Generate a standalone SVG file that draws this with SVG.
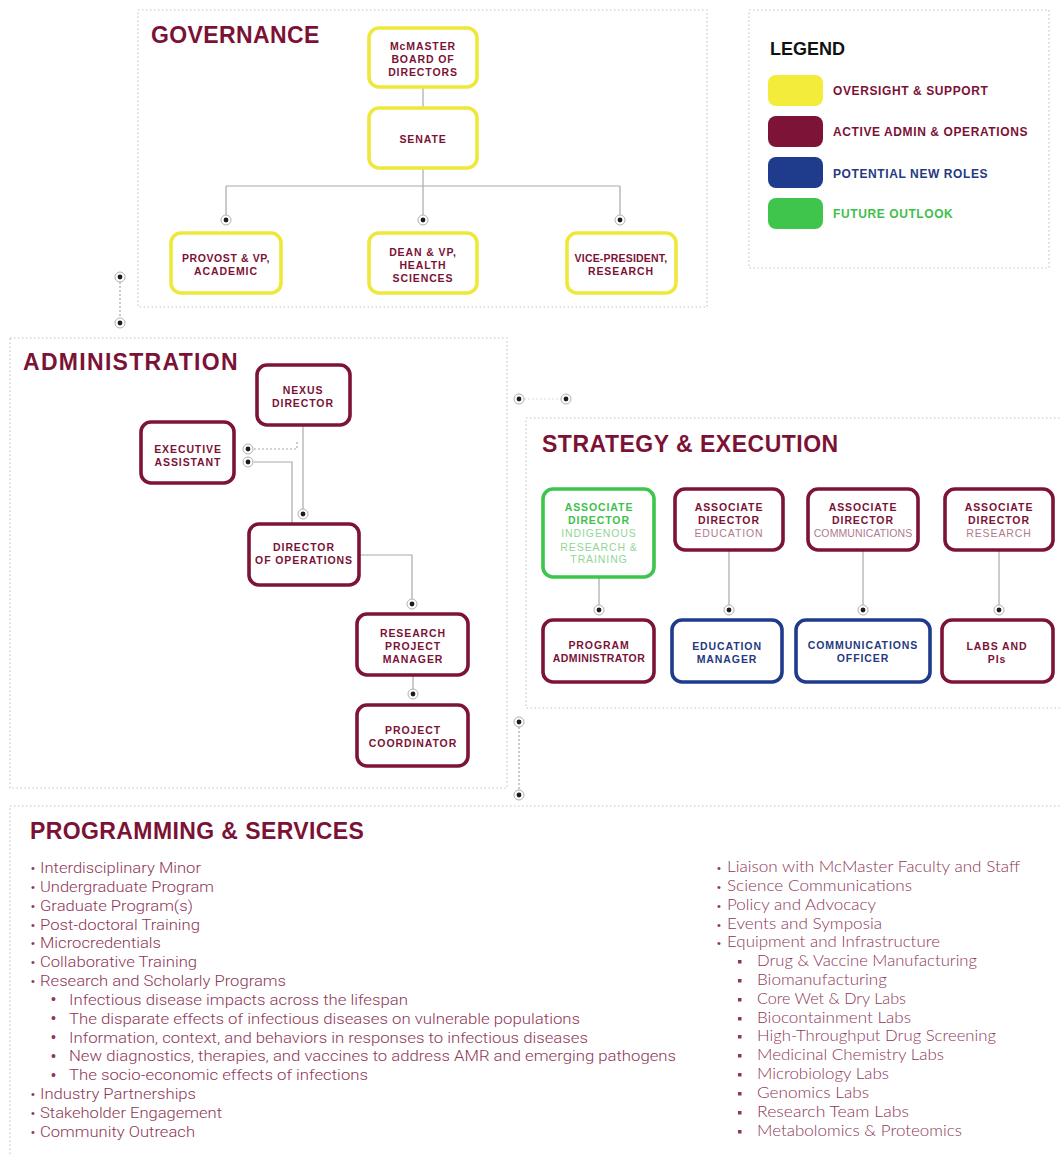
<svg xmlns="http://www.w3.org/2000/svg" xmlns:xlink="http://www.w3.org/1999/xlink" width="1060" height="1154" viewBox="0 0 1060 1154">
<defs>
<style>
.panel{fill:#fff;stroke:#c6c6c6;stroke-width:1.2;stroke-dasharray:1.5 2.5}
.title{font-family:'Liberation Sans',Arial,sans-serif;font-weight:700;font-size:23px;fill:#7b1236}
.box{fill:#fff;stroke-width:3.6}
.y{stroke:#efe83c}
.m{stroke:#7d1438}
.b{stroke:#1f3b8c}
.g{stroke:#3fc44c}
.t{font-family:'Liberation Sans',Arial,sans-serif;font-weight:700;font-size:10.5px;fill:#7b1236;text-anchor:middle;letter-spacing:0.9px}
.tb{fill:#253a80}
.tg{fill:#3fbf4c}
.s{font-weight:400;fill:#b07a8e}
.sg{font-weight:400;fill:#92d696}
.conn{stroke:#a9a9a9;stroke-width:1.2;fill:none}
.dash{stroke-dasharray:2 2}
.leg{font-family:'Liberation Sans',Arial,sans-serif;font-weight:700;font-size:12px;letter-spacing:0.6px}
.li{font-family:Roboto,'Liberation Sans',sans-serif;font-weight:300;font-size:15.5px;fill:#8e3658}
.ri{font-family:Lato,'Open Sans','Liberation Sans',sans-serif;font-weight:300;font-size:15.5px;fill:#8e3658}
.bul{font-family:'Liberation Sans',Arial,sans-serif;font-size:11px;fill:#8e3658}
.sq{fill:#8e3658}
</style>
<g id="dot"><circle r="5" fill="#fff" stroke="#b0b0b0" stroke-width="1"/><circle r="2.4" fill="#1c1c1c"/></g>
</defs>
<rect width="1060" height="1154" fill="#fff"/>

<!-- panels -->
<g id="panels">
<rect class="panel" x="138" y="10" width="569" height="297"/>
<rect class="panel" x="749" y="10" width="300" height="258"/>
<rect class="panel" x="10" y="338" width="497" height="450"/>
<rect class="panel" x="526" y="418" width="540" height="290"/>
<rect class="panel" x="10" y="806" width="1060" height="360"/>
<text class="title" x="151" y="43" letter-spacing="0.4">GOVERNANCE</text>
<text class="title" x="23" y="370" letter-spacing="1.3">ADMINISTRATION</text>
<text class="title" x="542" y="452" letter-spacing="0.5">STRATEGY &amp; EXECUTION</text>
<text class="title" x="30" y="839" letter-spacing="0.4">PROGRAMMING &amp; SERVICES</text>
</g>

<!-- legend -->
<g id="legend">
<text x="770" y="55" style="font-family:'Liberation Sans',Arial,sans-serif;font-weight:700;font-size:18px;fill:#111">LEGEND</text>
<rect x="768" y="75" width="55" height="31" rx="8" fill="#f3ec3a"/>
<rect x="768" y="116" width="55" height="31" rx="8" fill="#7d1438"/>
<rect x="768" y="157" width="55" height="31" rx="8" fill="#1f3b8c"/>
<rect x="768" y="198" width="55" height="31" rx="8" fill="#3fc44c"/>
<text class="leg" x="833" y="95" fill="#7b1236">OVERSIGHT &amp; SUPPORT</text>
<text class="leg" x="833" y="136" fill="#7b1236">ACTIVE ADMIN &amp; OPERATIONS</text>
<text class="leg" x="833" y="178" fill="#253a80">POTENTIAL NEW ROLES</text>
<text class="leg" x="833" y="218" fill="#3fbf4c">FUTURE OUTLOOK</text>
</g>

<!-- connectors -->
<g id="connectors">
<path class="conn" d="M423 87V108"/>
<path class="conn" d="M423 168V186M226 186H620M226 186V215M423 186V215M620 186V215"/>
<path class="conn dash" d="M120 282V318"/>
<path class="conn dash" d="M524 399H561" stroke-opacity="0.4"/>
<path class="conn dash" d="M519 727V790"/>
<path class="conn" d="M303 425V509"/>
<path class="conn dash" d="M254 449H297V441"/>
<path class="conn" d="M254 462H292V524"/>
<path class="conn" d="M359 555H412V599"/>
<path class="conn" d="M413 675V689"/>
<path class="conn" d="M599 577V605M729 550V605M863 550V605M999 550V605"/>
<use xlink:href="#dot" x="226" y="220"/>
<use xlink:href="#dot" x="423" y="220"/>
<use xlink:href="#dot" x="620" y="220"/>
<use xlink:href="#dot" x="120" y="277"/>
<use xlink:href="#dot" x="120" y="323"/>
<use xlink:href="#dot" x="519" y="399"/>
<use xlink:href="#dot" x="566" y="399"/>
<use xlink:href="#dot" x="519" y="722"/>
<use xlink:href="#dot" x="519" y="795"/>
<use xlink:href="#dot" x="303" y="514"/>
<use xlink:href="#dot" x="248" y="449"/>
<use xlink:href="#dot" x="248" y="462"/>
<use xlink:href="#dot" x="412" y="604"/>
<use xlink:href="#dot" x="413" y="694"/>
<use xlink:href="#dot" x="599" y="610"/>
<use xlink:href="#dot" x="729" y="610"/>
<use xlink:href="#dot" x="863" y="610"/>
<use xlink:href="#dot" x="999" y="610"/>
</g>

<!-- governance nodes -->
<g id="board"><rect class="box y" x="369" y="28" width="108" height="59" rx="10"/>
<text class="t" x="423" y="50">McMASTER</text><text class="t" x="423" y="63">BOARD OF</text><text class="t" x="423" y="76">DIRECTORS</text></g>
<g id="senate"><rect class="box y" x="369" y="108" width="108" height="60" rx="10"/>
<text class="t" x="423" y="143">SENATE</text></g>
<g id="provost"><rect class="box y" x="171" y="233" width="110" height="60" rx="10"/>
<text class="t" x="226" y="262" style="letter-spacing:0.6px">PROVOST &amp; VP,</text><text class="t" x="226" y="275">ACADEMIC</text></g>
<g id="dean"><rect class="box y" x="369" y="233" width="108" height="60" rx="10"/>
<text class="t" x="423" y="256">DEAN &amp; VP,</text><text class="t" x="423" y="269">HEALTH</text><text class="t" x="423" y="282">SCIENCES</text></g>
<g id="vpresearch"><rect class="box y" x="567" y="233" width="109" height="60" rx="10"/>
<text class="t" x="621" y="262" style="letter-spacing:0.2px">VICE-PRESIDENT,</text><text class="t" x="621" y="275">RESEARCH</text></g>

<!-- administration nodes -->
<g id="nexus"><rect class="box m" x="257" y="365" width="93" height="60" rx="10"/>
<text class="t" x="303" y="394">NEXUS</text><text class="t" x="303" y="407">DIRECTOR</text></g>
<g id="exec"><rect class="box m" x="141" y="422" width="93" height="61" rx="10"/>
<text class="t" x="188" y="453">EXECUTIVE</text><text class="t" x="188" y="466">ASSISTANT</text></g>
<g id="ops"><rect class="box m" x="249" y="524" width="110" height="61" rx="10"/>
<text class="t" x="304" y="551">DIRECTOR</text><text class="t" x="304" y="564">OF OPERATIONS</text></g>
<g id="rpm"><rect class="box m" x="357" y="614" width="111" height="61" rx="10"/>
<text class="t" x="413" y="637">RESEARCH</text><text class="t" x="413" y="650">PROJECT</text><text class="t" x="413" y="663">MANAGER</text></g>
<g id="pc"><rect class="box m" x="357" y="705" width="111" height="61" rx="10"/>
<text class="t" x="413" y="734">PROJECT</text><text class="t" x="413" y="747">COORDINATOR</text></g>

<!-- strategy nodes -->
<g id="ad-indigenous"><rect class="box g" x="543" y="489" width="111" height="88" rx="10"/>
<text class="t tg" x="599" y="511">ASSOCIATE</text><text class="t tg" x="599" y="524">DIRECTOR</text>
<text class="t sg" x="599" y="537">INDIGENOUS</text><text class="t sg" x="599" y="551">RESEARCH &amp;</text><text class="t sg" x="599" y="563">TRAINING</text></g>
<g id="ad-education"><rect class="box m" x="675" y="489" width="108" height="61" rx="10"/>
<text class="t" x="729" y="511">ASSOCIATE</text><text class="t" x="729" y="524">DIRECTOR</text><text class="t s" x="729" y="537">EDUCATION</text></g>
<g id="ad-comms"><rect class="box m" x="808" y="489" width="110" height="61" rx="10"/>
<text class="t" x="863" y="511">ASSOCIATE</text><text class="t" x="863" y="524">DIRECTOR</text><text class="t s" x="863" y="537" style="letter-spacing:0.1px">COMMUNICATIONS</text></g>
<g id="ad-research"><rect class="box m" x="945" y="489" width="108" height="61" rx="10"/>
<text class="t" x="999" y="511">ASSOCIATE</text><text class="t" x="999" y="524">DIRECTOR</text><text class="t s" x="999" y="537">RESEARCH</text></g>
<g id="progadmin"><rect class="box m" x="543" y="620" width="111" height="62" rx="10"/>
<text class="t" x="599" y="649">PROGRAM</text><text class="t" x="599" y="662" style="letter-spacing:0.4px">ADMINISTRATOR</text></g>
<g id="edumgr"><rect class="box b" x="672" y="620" width="110" height="62" rx="10"/>
<text class="t tb" x="727" y="650">EDUCATION</text><text class="t tb" x="727" y="663">MANAGER</text></g>
<g id="commofficer"><rect class="box b" x="796" y="620" width="134" height="62" rx="10"/>
<text class="t tb" x="863" y="649">COMMUNICATIONS</text><text class="t tb" x="863" y="662">OFFICER</text></g>
<g id="labs"><rect class="box m" x="942" y="620" width="111" height="62" rx="10"/>
<text class="t" x="997" y="650">LABS AND</text><text class="t" x="997" y="663">PIs</text></g>

<!-- programming lists -->
<g id="list-left">
<g class="bul">
<text x="31" y="872">•</text><text x="31" y="891">•</text><text x="31" y="910">•</text><text x="31" y="929">•</text><text x="31" y="947">•</text><text x="31" y="966">•</text><text x="31" y="985">•</text>
<text x="51" y="1004" font-size="14">•</text><text x="51" y="1023" font-size="14">•</text><text x="51" y="1042" font-size="14">•</text><text x="51" y="1061" font-size="14">•</text><text x="51" y="1080" font-size="14">•</text>
<text x="31" y="1098">•</text><text x="31" y="1117">•</text><text x="31" y="1136">•</text>
</g>
<text class="li" x="40" y="873" textLength="161" lengthAdjust="spacingAndGlyphs">Interdisciplinary Minor</text>
<text class="li" x="40" y="892" textLength="174" lengthAdjust="spacingAndGlyphs">Undergraduate Program</text>
<text class="li" x="40" y="911" textLength="153" lengthAdjust="spacingAndGlyphs">Graduate Program(s)</text>
<text class="li" x="40" y="930" textLength="160" lengthAdjust="spacingAndGlyphs">Post-doctoral Training</text>
<text class="li" x="40" y="948" textLength="121" lengthAdjust="spacingAndGlyphs">Microcredentials</text>
<text class="li" x="40" y="967" textLength="157" lengthAdjust="spacingAndGlyphs">Collaborative Training</text>
<text class="li" x="40" y="986" textLength="246" lengthAdjust="spacingAndGlyphs">Research and Scholarly Programs</text>
<text class="li" x="69" y="1005" textLength="339" lengthAdjust="spacingAndGlyphs">Infectious disease impacts across the lifespan</text>
<text class="li" x="69" y="1024" textLength="511" lengthAdjust="spacingAndGlyphs">The disparate effects of infectious diseases on vulnerable populations</text>
<text class="li" x="69" y="1043" textLength="519" lengthAdjust="spacingAndGlyphs">Information, context, and behaviors in responses to infectious diseases</text>
<text class="li" x="69" y="1061" textLength="607" lengthAdjust="spacingAndGlyphs">New diagnostics, therapies, and vaccines to address AMR and emerging pathogens</text>
<text class="li" x="69" y="1080" textLength="299" lengthAdjust="spacingAndGlyphs">The socio-economic effects of infections</text>
<text class="li" x="40" y="1099" textLength="156" lengthAdjust="spacingAndGlyphs">Industry Partnerships</text>
<text class="li" x="40" y="1118" textLength="182" lengthAdjust="spacingAndGlyphs">Stakeholder Engagement</text>
<text class="li" x="40" y="1137" textLength="155" lengthAdjust="spacingAndGlyphs">Community Outreach</text>
</g>
<g id="list-right">
<g class="bul">
<text x="717" y="872">•</text><text x="717" y="891">•</text><text x="717" y="910">•</text><text x="717" y="929">•</text><text x="717" y="947">•</text>
</g>
<g class="sq">
<rect x="738" y="960" width="3.5" height="3.5"/><rect x="738" y="979" width="3.5" height="3.5"/><rect x="738" y="998" width="3.5" height="3.5"/><rect x="738" y="1017" width="3.5" height="3.5"/><rect x="738" y="1035" width="3.5" height="3.5"/>
<rect x="738" y="1054" width="3.5" height="3.5"/><rect x="738" y="1073" width="3.5" height="3.5"/><rect x="738" y="1092" width="3.5" height="3.5"/><rect x="738" y="1111" width="3.5" height="3.5"/><rect x="738" y="1130" width="3.5" height="3.5"/>
</g>
<text class="ri" x="727" y="872" textLength="293" lengthAdjust="spacingAndGlyphs">Liaison with McMaster Faculty and Staff</text>
<text class="ri" x="727" y="891" textLength="185" lengthAdjust="spacingAndGlyphs">Science Communications</text>
<text class="ri" x="727" y="910" textLength="149" lengthAdjust="spacingAndGlyphs">Policy and Advocacy</text>
<text class="ri" x="727" y="929" textLength="155" lengthAdjust="spacingAndGlyphs">Events and Symposia</text>
<text class="ri" x="727" y="947" textLength="213" lengthAdjust="spacingAndGlyphs">Equipment and Infrastructure</text>
<text class="ri" x="757" y="966" textLength="220" lengthAdjust="spacingAndGlyphs">Drug &amp; Vaccine Manufacturing</text>
<text class="ri" x="757" y="985" textLength="130" lengthAdjust="spacingAndGlyphs">Biomanufacturing</text>
<text class="ri" x="757" y="1004" textLength="149" lengthAdjust="spacingAndGlyphs">Core Wet &amp; Dry Labs</text>
<text class="ri" x="757" y="1023" textLength="154" lengthAdjust="spacingAndGlyphs">Biocontainment Labs</text>
<text class="ri" x="757" y="1041" textLength="239" lengthAdjust="spacingAndGlyphs">High-Throughput Drug Screening</text>
<text class="ri" x="757" y="1060" textLength="187" lengthAdjust="spacingAndGlyphs">Medicinal Chemistry Labs</text>
<text class="ri" x="757" y="1079" textLength="132" lengthAdjust="spacingAndGlyphs">Microbiology Labs</text>
<text class="ri" x="757" y="1098" textLength="112" lengthAdjust="spacingAndGlyphs">Genomics Labs</text>
<text class="ri" x="757" y="1117" textLength="152" lengthAdjust="spacingAndGlyphs">Research Team Labs</text>
<text class="ri" x="757" y="1136" textLength="205" lengthAdjust="spacingAndGlyphs">Metabolomics &amp; Proteomics</text>
</g>
</svg>
